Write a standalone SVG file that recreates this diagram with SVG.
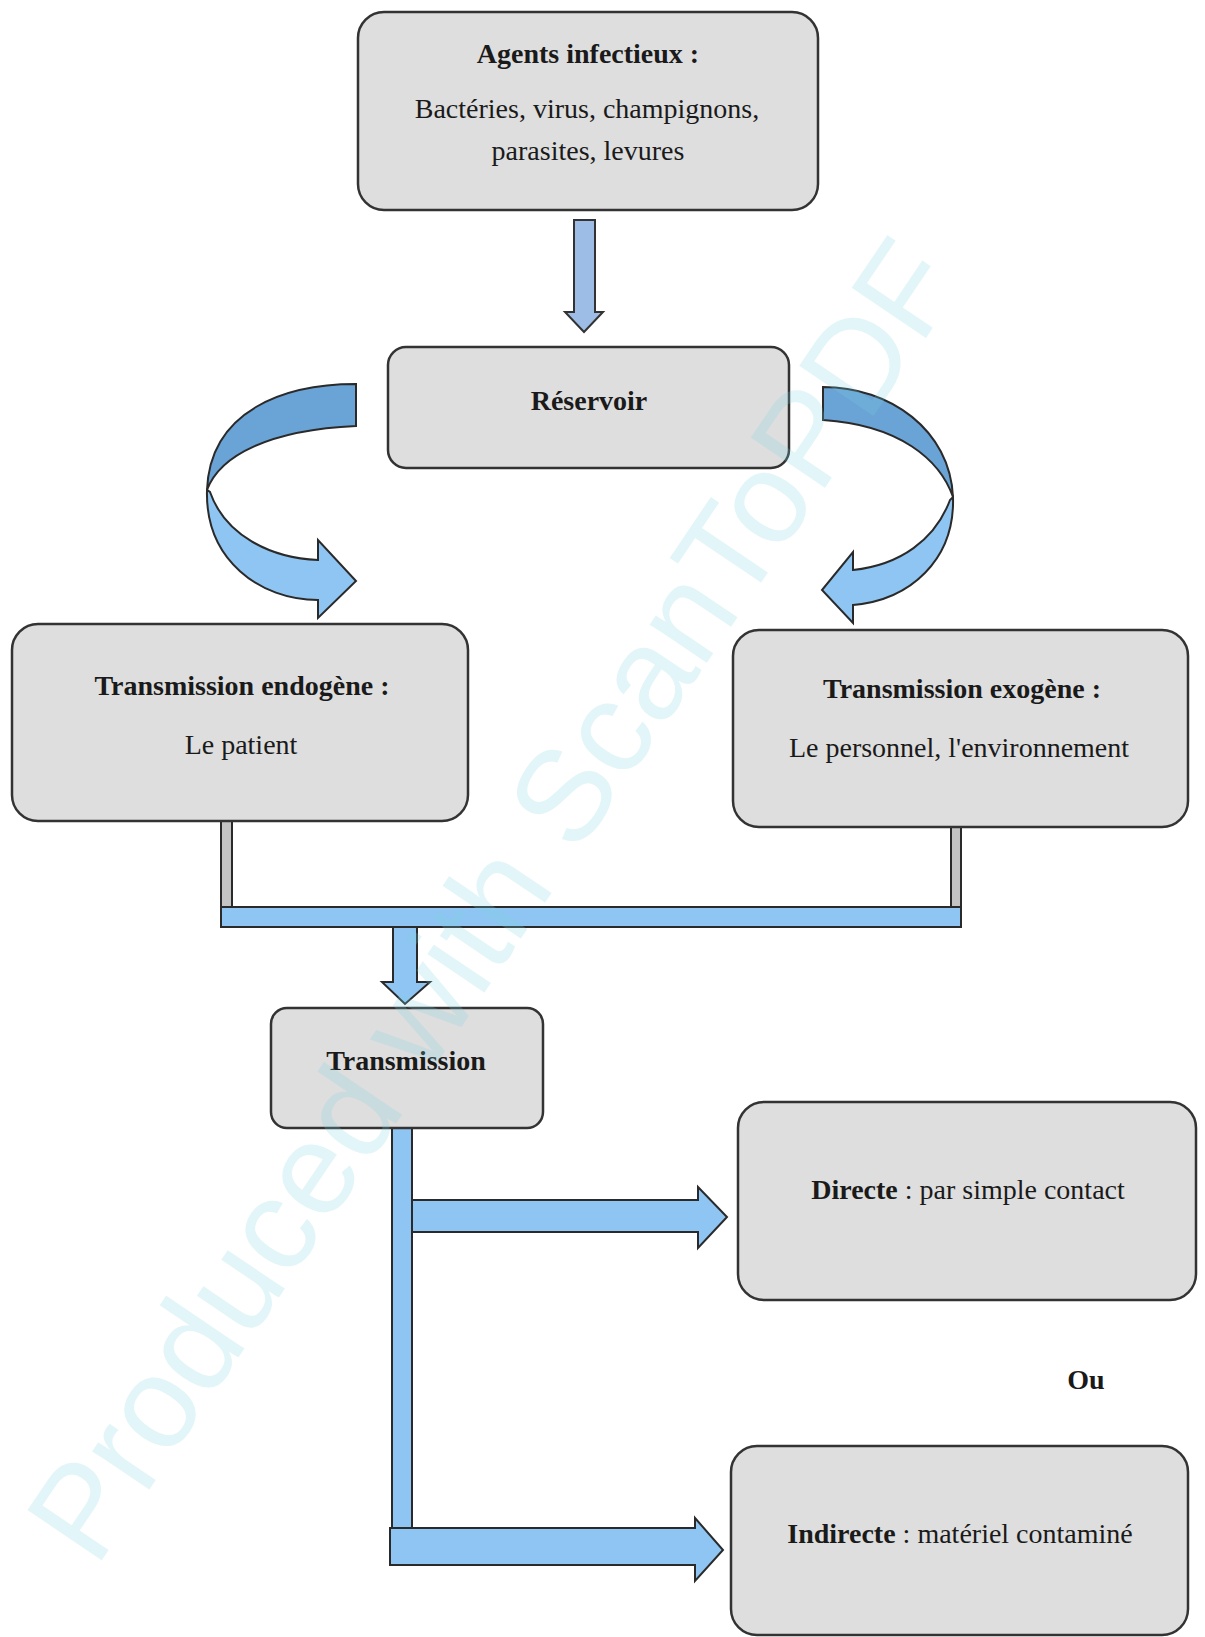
<svg xmlns="http://www.w3.org/2000/svg" width="1205" height="1637" viewBox="0 0 1205 1637">
<style>
.box{fill:#dedede;stroke:#333;stroke-width:2.5}
.t{font-family:"Liberation Serif","Times New Roman",serif;font-size:28px;fill:#1a1a1a;text-anchor:middle}
.b{font-weight:bold}
.blue{fill:#8ec5f2;stroke:#2a2a2a;stroke-width:2;stroke-linejoin:miter}
.dblue{fill:#6aa3d6;stroke:#2a2a2a;stroke-width:2}
.gray{fill:#c4c4c4;stroke:#2a2a2a;stroke-width:2}
.wm{font-family:"Liberation Sans",Arial,sans-serif;font-size:130px;fill:#7fd3e0;opacity:0.22;text-anchor:middle}
</style>
<rect width="1205" height="1637" fill="#fff"/>
<g id="connectors">
  <polygon id="arrow-top" points="574,220 595,220 595,312 603,312 584,332 565,312 574,312" fill="#9dbde6" stroke="#333" stroke-width="2"/>
  <path class="dblue" d="M356,384 C285,384 210,410 207,490 C220,455 270,430 356,426 Z"/>
  <path class="blue" d="M207,490 C205,560 260,600 318,600 L318,618 L356,581 L318,540 L318,560 C270,558 225,535 210,492 Z"/>
  <path class="dblue" d="M823,387 C890,387 950,430 953,497 C940,460 900,425 823,420 Z"/>
  <path class="blue" d="M953,497 C955,560 910,600 853,605 L853,623 L822,590 L853,552 L853,570 C900,565 935,540 950,500 Z"/>
  <rect class="gray" x="221" y="821" width="11" height="106"/>
  <rect class="gray" x="951" y="827" width="10" height="100"/>
  <rect class="blue" x="221" y="907" width="740" height="20"/>
  <polygon class="blue" points="393,927 417,927 417,982 430,982 405,1004 382,982 393,982"/>
  <rect class="blue" x="392" y="1128" width="20" height="437"/>
  <polygon class="blue" points="412,1200 698,1200 698,1187 727,1217 698,1248 698,1232 412,1232"/>
  <polygon class="blue" points="390,1528 695,1528 695,1518 723,1550 695,1581 695,1565 390,1565"/>
</g>
<g id="agents">
  <rect class="box" x="358" y="12" width="460" height="198" rx="26"/>
  <text class="t b" x="588" y="63">Agents infectieux :</text>
  <text class="t" x="587" y="118">Bactéries, virus, champignons,</text>
  <text class="t" x="588" y="160">parasites, levures</text>
</g>
<g id="reservoir">
  <rect class="box" x="388" y="347" width="401" height="121" rx="18"/>
  <text class="t b" x="589" y="410">Réservoir</text>
</g>
<g id="endogene">
  <rect class="box" x="12" y="624" width="456" height="197" rx="26"/>
  <text class="t b" x="242" y="695">Transmission endogène :</text>
  <text class="t" x="241" y="754">Le patient</text>
</g>
<g id="exogene">
  <rect class="box" x="733" y="630" width="455" height="197" rx="26"/>
  <text class="t b" x="962" y="698">Transmission exogène :</text>
  <text class="t" x="959" y="757">Le personnel, l'environnement</text>
</g>
<g id="transmission">
  <rect class="box" x="271" y="1008" width="272" height="120" rx="16"/>
  <text class="t b" x="406" y="1070">Transmission</text>
</g>
<g id="directe">
  <rect class="box" x="738" y="1102" width="458" height="198" rx="26"/>
  <text class="t" x="968" y="1199"><tspan class="b">Directe</tspan> : par simple contact</text>
</g>
<g id="ou">
  <text class="t b" x="1086" y="1389">Ou</text>
</g>
<g id="indirecte">
  <rect class="box" x="731" y="1446" width="457" height="189" rx="26"/>
  <text class="t" x="960" y="1543"><tspan class="b">Indirecte</tspan> : matériel contaminé</text>
</g>
<text class="wm" x="530" y="925" transform="rotate(-56 530 925)">Produced with ScanToPDF</text>
</svg>
